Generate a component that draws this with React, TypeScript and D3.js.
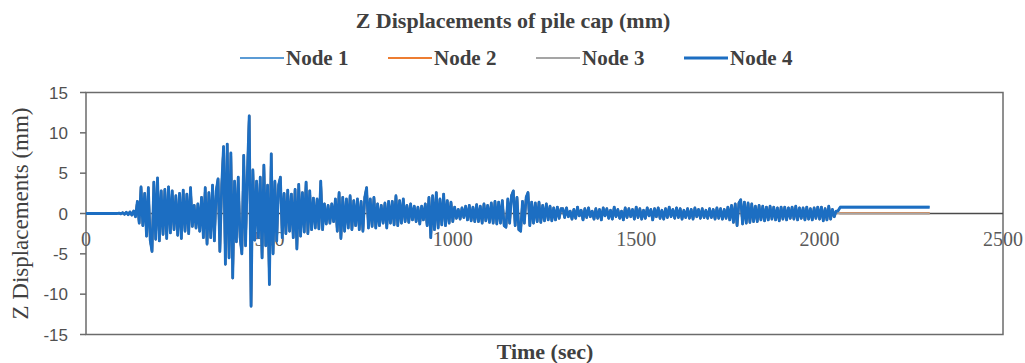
import React from 'react';
import * as d3 from 'd3';

const W = 1025;
const H = 363;

const chartTitle = 'Z Displacements of pile cap (mm)';
const xTitle = 'Time (sec)';
const yTitle = 'Z Displacements (mm)';

const seriesNames = ['Node 1', 'Node 2', 'Node 3', 'Node 4'];
const seriesColors = ['#5B9BD5', '#ED7D31', '#A5A5A5', '#1C6EC2'];

const xTicks = [0, 500, 1000, 1500, 2000, 2500];
const yTicks = [-15, -10, -5, 0, 5, 10, 15];

// shaking record, one reading every 5 sec from t = 0 to 2045 sec
const sampleStep = 5;
const shaking = [
  0, 0, 0, 0, 0, 0, 0, 0, 0, 0, 0, 0, 0, 0, 0, 0, 0, 0, 0.05, -0.05,
  0.1, -0.1, 0.15, -0.15, 0.2, -0.2, 0.3, -0.4, 1.5, -1.2, 3.3, -1.5, 2.5, -2.8, 3.2, -3.3, -4.7, 3.9, -3.2, 4.4,
  -3.4, 2.8, -2.6, 3.0, -3.1, 3.3, -2.4, 2.8, -2.0, 2.2, -2.7, 2.5, -3.1, 2.9, -2.2, 2.4, -2.5, 3.2, -1.6, 1.0,
  -1.8, 1.2, -2.2, 2.0, -3.0, 3.2, -3.8, 2.6, -3.0, 3.5, -3.4, 2.8, 4.3, -4.7, 3.5, 8.3, -6.3, 8.6, -5.5, 7.5,
  -8.0, 4.0, -3.5, 4.5, -3.0, -5.0, 7.2, -4.0, 5.0, 12.1, -11.5, 5.4, -3.3, 4.0, -3.0, 4.5, -5.5, 6.0, -4.0, 3.5,
  -8.8, 7.4, -5.0, 4.0, -3.4, 3.5, 4.5, -3.0, 2.5, -2.5, 2.9, -2.2, 2.4, -3.0, 3.0, -4.4, 3.6, -2.8, 2.6, -2.3,
  3.9, -2.5, 2.8, -2.0, 1.9, -1.8, 1.8, -1.9, 4.0, -2.0, 1.2, -1.3, 1.0, -1.2, 1.2, -1.0, 1.8, -2.2, 2.6, -3.1,
  2.0, -2.2, 1.8, -1.8, 2.2, -2.0, 1.6, -1.5, 1.8, -2.0, 1.5, -2.2, 2.0, 3.2, -1.8, 1.8, -1.6, 2.0, -1.8, 1.2,
  -1.5, 1.0, -1.2, 1.3, -1.8, 1.5, -1.2, 1.5, -1.4, 2.2, -1.5, 1.6, -1.2, 1.8, -1.0, 1.0, -1.1, 1.2, -0.8, 0.9,
  -1.0, 0.8, -1.3, 0.9, -0.8, 1.2, -1.5, 2.0, -3.0, 2.2, -2.0, 2.6, -1.8, 1.8, -1.4, 2.4, -1.5, 1.6, -1.2, 1.4,
  -1.0, 0.8, -0.6, 0.5, -0.7, 0.7, -0.5, 0.9, -0.8, 1.0, -0.9, 0.8, -1.0, 1.1, -1.0, 0.9, -1.2, 1.2, -0.9, 1.0,
  -1.1, 1.3, -1.2, 1.5, -1.3, 1.4, -1.2, 1.6, -1.5, -1.7, 1.8, -1.2, 2.2, 2.8, -1.5, 2.0, -2.0, -2.2, 1.5, -1.2,
  2.0, 2.6, -1.5, 1.4, -1.2, 1.3, -1.0, 1.4, -1.1, 1.0, -0.9, 1.2, -0.8, 0.9, -0.9, 0.7, -0.8, 0.8, -0.6, 0.6,
  0.6, -0.5, 0.7, -0.4, 0.3, -0.7, 0.5, -0.6, 0.8, -0.3, 0.4, -0.8, 0.6, -0.5, 0.7, -0.4, 0.3, -0.7, 0.6, -0.6,
  0.5, -0.8, 0.7, -0.3, 0.6, -0.6, 0.4, -0.7, 0.8, -0.4, 0.5, -0.6, 0.3, -0.8, 0.7, -0.5, 0.6, -0.4, 0.5, -0.7,
  0.8, -0.5, 0.6, -0.7, 0.4, -0.6, 0.7, -0.3, 0.5, -0.8, 0.6, -0.4, 0.7, -0.6, 0.4, -0.7, 0.6, -0.5, 0.8, -0.4,
  0.5, -0.6, 0.7, -0.5, 0.6, -0.7, 0.4, -0.5, 0.6, -0.6, 0.5, -0.7, 0.7, -0.4, 0.5, -0.6, 0.6, -0.5, 0.4, -0.6,
  0.6, -0.5, 0.5, -0.7, 0.7, -0.6, 0.6, -0.7, 0.5, -0.6, 0.8, -0.8, 1.0, -1.1, 1.2, -1.5, 1.3, 1.7, -1.3, 1.4,
  -1.2, 1.3, -1.1, 1.2, -1.0, 0.9, -1.0, 1.0, -0.8, 0.9, -0.9, 0.8, -0.8, 0.9, -0.7, 0.8, -0.8, 0.7, -0.9, 0.8,
  -0.7, 0.8, -0.8, 0.7, -0.6, 0.8, -0.7, 0.9, -0.8, 0.7, -0.6, 0.7, -0.8, 0.8, -0.7, 0.6, -0.8, 0.7, -0.6, 0.8,
  -0.7, 0.8, -0.9, 0.6, -0.8, 0.9, -0.7, 0.5, -0.4, 0.3,
];

// residual displacement after the shaking ends
const tailTimes = [2050, 2056, 2300];
const tailNode1 = [0.3, 0.85, 0.85];
const tailNode2 = [0.1, 0.05, 0.05];
const tailNode3 = [0.1, 0.0, 0.0];
const tailNode4 = [0.3, 0.75, 0.75];
const tails = [tailNode1, tailNode2, tailNode3, tailNode4];

const plot = { left: 86, right: 1003, top: 92.5, bottom: 334.5 };

export default function App() {
  const x = d3.scaleLinear().domain([0, 2500]).range([plot.left, plot.right]);
  const y = d3.scaleLinear().domain([-15, 15]).range([plot.bottom, plot.top]);

  const line = d3
    .line<[number, number]>()
    .x((d) => x(d[0]))
    .y((d) => y(d[1]));

  const series = tails.map((tail) => {
    const pts: [number, number][] = shaking.map((v, i) => [i * sampleStep, v]);
    tailTimes.forEach((t, i) => pts.push([t, tail[i]]));
    return pts;
  });

  const legendX = [240, 388, 536, 684];
  const serif = "'Liberation Serif', 'Times New Roman', serif";

  return (
    <svg
      width={W}
      height={H}
      style={{ position: 'absolute', left: 0, top: 0, background: '#fff' }}
    >
      <text
        x={513}
        y={28}
        textAnchor="middle"
        fontFamily={serif}
        fontWeight="bold"
        fontSize={22}
        fill="#404040"
      >
        {chartTitle}
      </text>

      {seriesNames.map((name, i) => (
        <g key={name}>
          <line
            x1={legendX[i]}
            x2={legendX[i] + 44}
            y1={58}
            y2={58}
            stroke={seriesColors[i]}
            strokeWidth={i === 3 ? 3 : 2}
          />
          <text
            x={legendX[i] + 46}
            y={65}
            fontFamily={serif}
            fontWeight="bold"
            fontSize={21}
            fill="#404040"
          >
            {name}
          </text>
        </g>
      ))}

      {/* plot frame */}
      <rect
        x={plot.left}
        y={plot.top}
        width={plot.right - plot.left}
        height={plot.bottom - plot.top}
        fill="none"
        stroke="#6b6b6b"
        strokeWidth={1.5}
      />

      {/* y axis ticks and labels */}
      {yTicks.map((t) => (
        <g key={t}>
          <line x1={plot.left - 6} x2={plot.left} y1={y(t)} y2={y(t)} stroke="#6b6b6b" strokeWidth={1.5} />
          <text
            x={68}
            y={y(t) + 6}
            textAnchor="end"
            fontFamily="'Liberation Sans', Arial, sans-serif"
            fontSize={17}
            fill="#505050"
          >
            {t}
          </text>
        </g>
      ))}

      {/* x labels sit under the zero line, behind the series */}
      {xTicks.map((t) => (
        <text
          key={t}
          x={x(t)}
          y={y(0) + 32}
          textAnchor="middle"
          fontFamily={serif}
          fontSize={20}
          fill="#595959"
        >
          {t}
        </text>
      ))}

      <line x1={plot.left} x2={plot.right} y1={y(0)} y2={y(0)} stroke="#4a4a4a" strokeWidth={1.5} />

      {series.map((pts, i) => (
        <path
          key={seriesNames[i]}
          d={line(pts) || ''}
          fill="none"
          stroke={seriesColors[i]}
          strokeWidth={i === 3 ? 2.8 : 2.2}
          strokeLinejoin="round"
        />
      ))}

      <text
        x={545}
        y={359}
        textAnchor="middle"
        fontFamily={serif}
        fontWeight="bold"
        fontSize={22}
        fill="#404040"
      >
        {xTitle}
      </text>

      <text
        transform={`translate(28, ${(plot.top + plot.bottom) / 2}) rotate(-90)`}
        textAnchor="middle"
        fontFamily={serif}
        fontSize={23}
        fill="#404040"
      >
        {yTitle}
      </text>
    </svg>
  );
}
